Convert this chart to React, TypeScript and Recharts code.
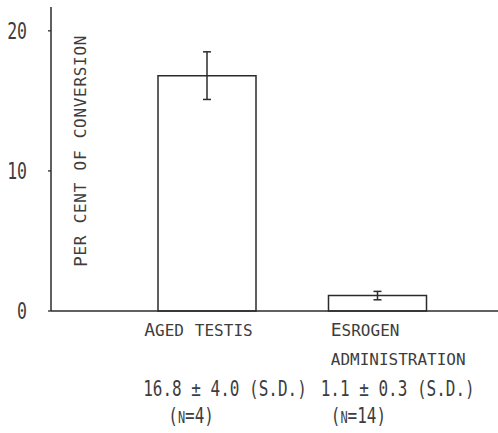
import React from "react";
import { BarChart, Bar, XAxis, YAxis, ErrorBar, Label } from "recharts";

// conversion rate per group (per cent)
const groups = ["Aged testis", "Esrogen"];
const groupSub = ["", "administration"];
const means = [16.8, 1.1];
const sds = [4.0, 0.3];
const counts = [4, 14];
const whiskers = [1.7, 0.3];
const yTicks = [0, 10, 20];

const data = groups.map((g, i) => ({
  name: g,
  value: means[i],
  err: whiskers[i],
}));

const FONT = '"DejaVu Sans Mono", monospace';
const INK = "#2b2b2b";
const TEXT = "#3d3d3d";

// lowercase letters become small capitals, everything else keeps the big size
const SmallCaps = ({ text, big, small }: { text: string; big: number; small: number }) => {
  const runs: { s: string; low: boolean }[] = [];
  for (const ch of text) {
    const low = ch !== ch.toUpperCase();
    const last = runs[runs.length - 1];
    if (last && last.low === low) last.s += ch;
    else runs.push({ s: ch, low });
  }
  return (
    <>
      {runs.map((r, i) => (
        <tspan key={i} fontSize={r.low ? small : big}>
          {r.low ? r.s.toUpperCase() : r.s}
        </tspan>
      ))}
    </>
  );
};

// left offsets of each text line from the bar centre
const LINE_X = [
  [-63, -63, -64, -39],
  [-47, -47, -57, -47],
];

const CategoryTick = (props: any) => {
  const { x, y, payload } = props;
  const i = payload.index;
  const off = LINE_X[i];
  return (
    <g fill={TEXT} fontFamily={FONT}>
      <text x={x + off[0]} y={y + 25}>
        <SmallCaps text={groups[i]} big={18} small={16} />
      </text>
      {groupSub[i] && (
        <text x={x + off[1]} y={y + 54}>
          <SmallCaps text={groupSub[i]} big={18} small={16} />
        </text>
      )}
      <text transform={`translate(${x + off[2]},${y + 85}) scale(1,1.37)`} fontSize={16}>
        {`${means[i].toFixed(1)} ± ${sds[i].toFixed(1)} (S.D.)`}
      </text>
      <text transform={`translate(${x + off[3]},${y + 112}) scale(1,1.37)`}>
        <SmallCaps text={`(n=${counts[i]})`} big={16} small={12} />
      </text>
    </g>
  );
};

const ValueTick = (props: any) => {
  const { x, y, payload } = props;
  return (
    <text
      transform={`translate(${x - 19},${y + 8}) scale(1,1.4)`}
      textAnchor="end"
      fontSize={16.5}
      fontFamily={FONT}
      fill={TEXT}
    >
      {payload.value}
    </text>
  );
};

const AxisTitle = (props: any) => {
  const { viewBox } = props;
  const cx = viewBox.x + viewBox.width + 29;
  const cy = 151;
  return (
    <text
      transform={`translate(${cx},${cy}) rotate(-90)`}
      textAnchor="middle"
      dominantBaseline="central"
      fontFamily={FONT}
      letterSpacing={0.7}
      fill={TEXT}
    >
      <SmallCaps text="Per cent of conversion" big={18} small={16} />
    </text>
  );
};

export default function App() {
  return (
    <div style={{ position: "absolute", left: 0, top: 0, background: "#fff" }}>
      <BarChart
        width={498}
        height={433}
        data={data}
        margin={{ top: 7, right: 0, bottom: 0, left: 0 }}
        barSize={98}
      >
        <XAxis
          dataKey="name"
          height={122}
          padding={{ left: 71, right: 35 }}
          tickLine={false}
          tickSize={0}
          tickMargin={0}
          interval={0}
          axisLine={{ stroke: INK, strokeWidth: 1.5 }}
          tick={<CategoryTick />}
        />
        <YAxis
          width={51}
          domain={[0, 21.7]}
          ticks={yTicks}
          tickSize={3}
          tickLine={{ stroke: INK, strokeWidth: 1.3 }}
          axisLine={{ stroke: INK, strokeWidth: 1.5 }}
          tick={<ValueTick />}
        >
          <Label content={<AxisTitle />} />
        </YAxis>
        <Bar dataKey="value" fill="#fff" stroke={INK} strokeWidth={1.5} isAnimationActive={false}>
          <ErrorBar dataKey="err" width={4} stroke={INK} strokeWidth={1.5} direction="y" isAnimationActive={false} />
        </Bar>
      </BarChart>
    </div>
  );
}
